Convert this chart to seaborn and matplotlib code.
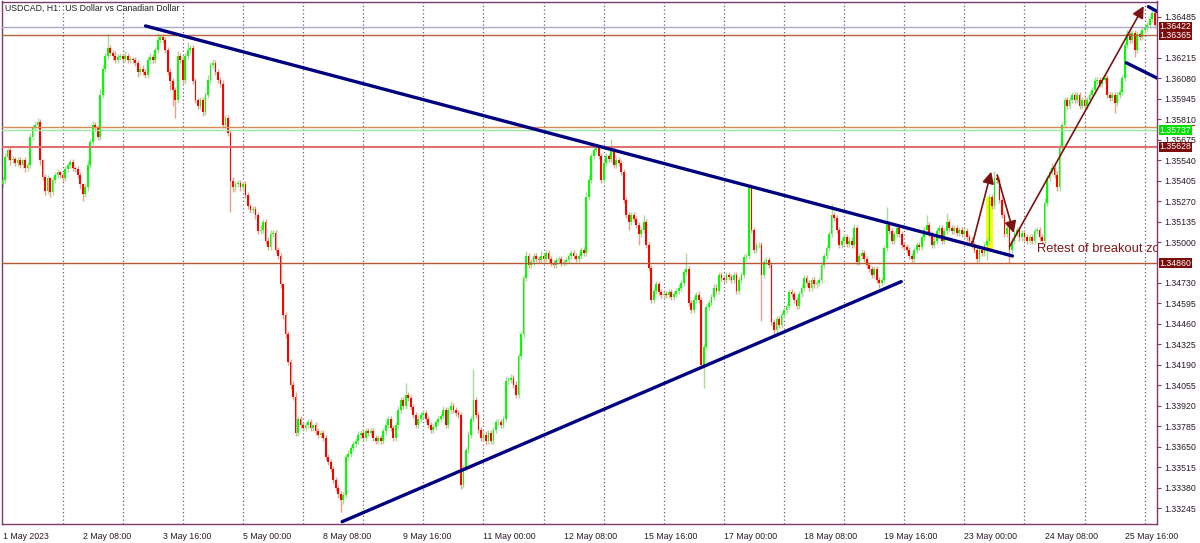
import numpy as np
import seaborn as sns
import matplotlib.pyplot as plt
from matplotlib.patches import Rectangle, FancyArrowPatch
import matplotlib.transforms as mtransforms

sns.set_style("white")
plt.rcParams['font.family'] = ['Liberation Sans', 'DejaVu Sans']

PIP = 0.0001
first_open = 1.3538

# hourly closes, one row per trading day
week1_close = [
    1.3541, 1.3556, 1.3561, 1.3554, 1.3555, 1.3552, 1.3554, 1.3551, 1.3554, 1.3549, 1.3551, 1.3569,
    1.3575, 1.3577, 1.3579, 1.3554, 1.3543, 1.3534, 1.3542, 1.3533, 1.3541, 1.3544, 1.3546, 1.3544,
    1.3542, 1.3548, 1.3551, 1.3553, 1.3549, 1.3548, 1.3544, 1.3538, 1.3532, 1.3536, 1.3551, 1.3566,
    1.3577, 1.3575, 1.3569, 1.3597, 1.3614, 1.3623, 1.3628, 1.3625, 1.3623, 1.3620, 1.3622, 1.3623,
    1.3621, 1.3623, 1.3620, 1.3621, 1.3620, 1.3618, 1.3612, 1.3614, 1.3612, 1.3610, 1.3620, 1.3622,
    1.3620, 1.3627, 1.3633, 1.3635, 1.3633, 1.3627, 1.3612, 1.3606, 1.3600, 1.3594, 1.3623, 1.3620,
    1.3607, 1.3623, 1.3627, 1.3628, 1.3606, 1.3594, 1.3590, 1.3594, 1.3586, 1.3597, 1.3607, 1.3617,
    1.3618, 1.3612, 1.3607, 1.3604, 1.3577, 1.3582, 1.3572, 1.3540, 1.3536, 1.3538, 1.3539, 1.3536,
    1.3538, 1.3531, 1.3524, 1.3521, 1.3522, 1.3518, 1.3507, 1.3508, 1.3513, 1.3501, 1.3497, 1.3505,
    1.3506, 1.3495, 1.3491, 1.3472, 1.3452, 1.3439, 1.3421, 1.3406, 1.3398, 1.3374, 1.3383, 1.3379,
]
week2_close = [
    1.3377, 1.3379, 1.3381, 1.3377, 1.3379, 1.3375, 1.3373, 1.3374, 1.3371, 1.3358, 1.3355, 1.3350,
    1.3343, 1.3338, 1.3334, 1.3330, 1.3333, 1.3358, 1.3360, 1.3364, 1.3367, 1.3369, 1.3373, 1.3374,
    1.3371, 1.3375, 1.3374, 1.3375, 1.3371, 1.3369, 1.3371, 1.3369, 1.3375, 1.3379, 1.3383, 1.3377,
    1.3371, 1.3379, 1.3389, 1.3396, 1.3392, 1.3399, 1.3397, 1.3391, 1.3386, 1.3379, 1.3383, 1.3386,
    1.3387, 1.3383, 1.3379, 1.3376, 1.3378, 1.3381, 1.3383, 1.3385, 1.3389, 1.3379, 1.3389, 1.3392,
    1.3389, 1.3387, 1.3386, 1.3340, 1.3351, 1.3363, 1.3373, 1.3383, 1.3396, 1.3386, 1.3376, 1.3371,
    1.3373, 1.3369, 1.3374, 1.3369, 1.3376, 1.3381, 1.3381, 1.3379, 1.3383, 1.3408, 1.3409, 1.3410,
    1.3406, 1.3399, 1.3425, 1.3439, 1.3476, 1.3491, 1.3485, 1.3487, 1.3491, 1.3489, 1.3488, 1.3491,
    1.3489, 1.3493, 1.3489, 1.3486, 1.3485, 1.3488, 1.3489, 1.3486, 1.3487, 1.3488, 1.3491, 1.3493,
    1.3491, 1.3489, 1.3491, 1.3495, 1.3493, 1.3530, 1.3541, 1.3557, 1.3561, 1.3562, 1.3557, 1.3541,
]
week3_close = [
    1.3552, 1.3557, 1.3555, 1.3561, 1.3551, 1.3554, 1.3552, 1.3546, 1.3528, 1.3518, 1.3513, 1.3518,
    1.3515, 1.3511, 1.3505, 1.3508, 1.3513, 1.3498, 1.3483, 1.3462, 1.3468, 1.3472, 1.3467, 1.3465,
    1.3466, 1.3465, 1.3467, 1.3464, 1.3466, 1.3468, 1.3470, 1.3473, 1.3480, 1.3482, 1.3460, 1.3455,
    1.3462, 1.3465, 1.3462, 1.3419, 1.3431, 1.3457, 1.3460, 1.3464, 1.3470, 1.3468, 1.3478, 1.3476,
    1.3475, 1.3478, 1.3477, 1.3475, 1.3478, 1.3468, 1.3475, 1.3478, 1.3490, 1.3491, 1.3536, 1.3508,
    1.3495, 1.3498, 1.3498, 1.3478, 1.3487, 1.3488, 1.3485, 1.3447, 1.3442, 1.3449, 1.3445, 1.3452,
    1.3455, 1.3458, 1.3467, 1.3466, 1.3462, 1.3458, 1.3466, 1.3470, 1.3476, 1.3473, 1.3470, 1.3475,
    1.3472, 1.3473, 1.3475, 1.3485, 1.3491, 1.3496, 1.3505, 1.3518, 1.3516, 1.3508, 1.3498, 1.3501,
    1.3503, 1.3499, 1.3501, 1.3498, 1.3509, 1.3487, 1.3491, 1.3493, 1.3489, 1.3485, 1.3482, 1.3478,
    1.3482, 1.3475, 1.3473, 1.3475, 1.3496, 1.3511, 1.3507, 1.3501, 1.3505, 1.3509, 1.3505, 1.3498,
]
week4_close = [
    1.3497, 1.3495, 1.3491, 1.3489, 1.3495, 1.3498, 1.3497, 1.3503, 1.3508, 1.3511, 1.3505, 1.3498,
    1.3501, 1.3507, 1.3509, 1.3501, 1.3507, 1.3513, 1.3509, 1.3507, 1.3509, 1.3506, 1.3508, 1.3505,
    1.3507, 1.3503, 1.3501, 1.3498, 1.3495, 1.3489, 1.3495, 1.3493, 1.3498, 1.3501, 1.3530, 1.3524,
    1.3542, 1.3541, 1.3528, 1.3518, 1.3505, 1.3509, 1.3495, 1.3501, 1.3506, 1.3508, 1.3503, 1.3506,
    1.3503, 1.3501, 1.3503, 1.3501, 1.3507, 1.3508, 1.3503, 1.3501, 1.3526, 1.3542, 1.3546, 1.3549,
    1.3544, 1.3536, 1.3563, 1.3577, 1.3594, 1.3590, 1.3594, 1.3597, 1.3594, 1.3597, 1.3590, 1.3594,
    1.3590, 1.3594, 1.3597, 1.3600, 1.3606, 1.3607, 1.3604, 1.3607, 1.3608, 1.3597, 1.3595, 1.3597,
    1.3592, 1.3597, 1.3599, 1.3608, 1.3630, 1.3637, 1.3633, 1.3638, 1.3627, 1.3637, 1.3635, 1.3640,
    1.3641, 1.3643, 1.3647, 1.3651, 1.3643,
]

# wick lengths beyond the body, in pips
week1_up = [
    2, 3, 1, 2, 2, 1, 2, 2, 1, 2, 2, 3, 2, 2, 3, 2, 1, 2, 2, 1, 2, 2, 2, 1,
    2, 2, 1, 2, 2, 1, 2, 2, 1, 2, 3, 2, 3, 2, 2, 4, 3, 2, 9, 2, 2, 3, 2, 2,
    2, 3, 2, 2, 1, 2, 2, 2, 3, 2, 2, 3, 2, 2, 5, 2, 2, 2, 2, 3, 2, 2, 3, 2,
    3, 2, 5, 2, 2, 2, 1, 2, 2, 2, 3, 2, 3, 2, 2, 2, 3, 2, 2, 2, 3, 2, 2, 2,
    2, 2, 2, 1, 2, 2, 2, 3, 2, 2, 2, 3, 2, 2, 2, 2, 1, 2, 2, 2, 2, 3, 2, 2,
]
week1_dn = [
    2, 2, 2, 3, 2, 2, 2, 2, 2, 3, 2, 2, 2, 2, 2, 3, 2, 3, 2, 3, 2, 2, 2, 2,
    2, 2, 2, 2, 2, 2, 2, 3, 5, 2, 2, 2, 2, 2, 2, 2, 2, 2, 2, 2, 3, 2, 2, 2,
    2, 2, 2, 2, 2, 2, 3, 2, 2, 2, 2, 2, 2, 2, 2, 2, 2, 2, 2, 6, 10, 12, 2, 2,
    3, 2, 2, 2, 2, 2, 2, 2, 3, 2, 2, 2, 2, 2, 2, 2, 2, 2, 2, 20, 3, 2, 2, 2,
    2, 2, 2, 2, 2, 3, 2, 2, 2, 2, 2, 2, 2, 2, 2, 2, 3, 2, 2, 3, 2, 2, 2, 2,
]
week2_up = [
    2, 2, 2, 2, 1, 2, 2, 2, 2, 2, 2, 2, 2, 2, 2, 2, 2, 2, 3, 2, 2, 2, 2, 2,
    2, 2, 2, 2, 2, 2, 2, 2, 2, 3, 2, 2, 2, 2, 3, 2, 2, 8, 2, 2, 2, 2, 2, 2,
    2, 2, 2, 2, 2, 2, 2, 2, 3, 2, 2, 3, 2, 2, 2, 2, 2, 2, 2, 2, 20, 2, 2, 2,
    2, 2, 2, 2, 2, 2, 2, 2, 2, 3, 2, 3, 2, 2, 2, 2, 2, 3, 2, 2, 2, 2, 2, 3,
    2, 2, 2, 2, 2, 2, 2, 2, 2, 2, 2, 2, 2, 2, 2, 2, 2, 3, 3, 2, 3, 3, 2, 2,
]
week2_dn = [
    2, 2, 2, 2, 2, 2, 2, 2, 2, 2, 2, 2, 2, 2, 3, 8, 3, 2, 2, 2, 2, 2, 2, 2,
    2, 2, 2, 2, 2, 2, 2, 2, 2, 2, 2, 2, 2, 2, 2, 2, 2, 2, 2, 2, 2, 2, 2, 2,
    2, 2, 2, 2, 2, 2, 2, 2, 2, 2, 2, 2, 2, 2, 2, 3, 2, 2, 2, 2, 2, 2, 2, 2,
    2, 3, 2, 2, 2, 2, 2, 2, 2, 2, 2, 2, 2, 2, 2, 2, 2, 2, 2, 2, 2, 2, 2, 2,
    2, 2, 2, 2, 2, 2, 2, 2, 2, 2, 2, 2, 2, 2, 2, 2, 2, 2, 2, 2, 2, 2, 2, 2,
]
week3_up = [
    2, 2, 2, 7, 2, 2, 2, 2, 2, 2, 2, 2, 2, 2, 2, 2, 5, 2, 2, 2, 2, 2, 2, 2,
    2, 2, 2, 2, 2, 2, 2, 2, 2, 11, 2, 2, 2, 2, 3, 2, 2, 2, 2, 2, 2, 2, 2, 2,
    2, 2, 2, 2, 2, 2, 2, 2, 2, 2, 2, 2, 2, 2, 2, 2, 2, 2, 2, 2, 2, 2, 2, 2,
    2, 2, 2, 2, 2, 2, 2, 2, 2, 2, 2, 2, 2, 2, 2, 2, 2, 2, 2, 7, 2, 2, 2, 2,
    2, 2, 2, 2, 3, 2, 2, 2, 2, 2, 2, 2, 2, 2, 2, 2, 2, 12, 2, 2, 2, 2, 2, 2,
]
week3_dn = [
    2, 2, 2, 2, 2, 2, 2, 2, 2, 2, 5, 2, 2, 2, 7, 2, 2, 2, 2, 2, 2, 2, 2, 2,
    2, 2, 2, 2, 2, 2, 2, 2, 2, 2, 2, 2, 2, 2, 2, 2, 15, 2, 2, 2, 2, 2, 2, 2,
    2, 2, 2, 2, 2, 2, 2, 2, 2, 2, 2, 2, 2, 2, 2, 30, 2, 2, 2, 2, 3, 2, 2, 2,
    2, 2, 2, 2, 2, 2, 2, 2, 2, 2, 2, 2, 2, 2, 2, 2, 2, 2, 2, 2, 2, 2, 2, 2,
    2, 2, 2, 2, 2, 2, 2, 2, 2, 2, 2, 2, 2, 2, 3, 2, 2, 2, 2, 2, 2, 2, 2, 2,
]
week4_up = [
    2, 2, 2, 2, 2, 2, 2, 2, 2, 7, 2, 2, 2, 2, 2, 2, 2, 6, 2, 2, 2, 2, 2, 2,
    2, 2, 2, 2, 2, 2, 2, 2, 2, 2, 2, 2, 5, 3, 2, 2, 2, 2, 2, 2, 2, 2, 2, 2,
    2, 2, 2, 2, 2, 2, 2, 2, 3, 2, 2, 3, 2, 3, 2, 2, 2, 2, 2, 2, 2, 2, 2, 2,
    2, 2, 2, 2, 3, 2, 2, 2, 3, 2, 2, 2, 2, 2, 2, 2, 2, 3, 2, 2, 2, 2, 2, 2,
    2, 2, 2, 3, 2,
]
week4_dn = [
    2, 2, 2, 2, 2, 2, 2, 2, 2, 2, 2, 2, 2, 2, 2, 2, 2, 2, 2, 2, 2, 2, 2, 2,
    2, 2, 2, 2, 2, 3, 2, 2, 2, 10, 2, 2, 2, 2, 2, 2, 2, 2, 9, 2, 2, 2, 2, 2,
    2, 2, 2, 2, 2, 2, 2, 2, 2, 2, 2, 2, 2, 2, 2, 2, 2, 2, 2, 2, 2, 2, 2, 2,
    2, 2, 2, 2, 2, 2, 2, 2, 2, 2, 2, 2, 7, 2, 2, 2, 2, 2, 2, 2, 5, 2, 2, 2,
    2, 2, 2, 2, 2,
]

xtick_pos = [0, 32, 64, 96, 128, 160, 192, 224, 256, 288, 320, 352, 384, 416, 448]
xtick_labels = ["1 May 2023", "2 May 08:00", "3 May 16:00", "5 May 00:00", "8 May 08:00",
                "9 May 16:00", "11 May 00:00", "12 May 08:00", "15 May 16:00", "17 May 00:00",
                "18 May 08:00", "19 May 16:00", "23 May 00:00", "24 May 08:00", "25 May 16:00"]
# price scale; 1.34865 and 1.36350 sit under the level boxes
ytick_labels = ["1.33245", "1.33380", "1.33515", "1.33650", "1.33785", "1.33920", "1.34055",
                "1.34190", "1.34325", "1.34460", "1.34595", "1.34730", "1.35000",
                "1.35135", "1.35270", "1.35405", "1.35540", "1.35675", "1.35810", "1.35945",
                "1.36080", "1.36215", "1.36485"]

# drawn objects (bar index, price)
trendlines = [
    ([57.1, 403.2], [1.36426, 1.34908]),
    ([135.6, 358.8], [1.33155, 1.34739]),
    ([448.6, 462.0], [1.36183, 1.36073]),
    ([457.5, 462.0], [1.36553, 1.36512]),
]
arrows = [
    ((387.1, 1.34980), (394.7, 1.35464)),
    ((397.1, 1.35442), (403.7, 1.35060)),
    ((402.0, 1.34969), (455.6, 1.36557)),
]
levels = [
    (1.36422, '#a9a9c9', 1.0),
    (1.36365, '#b4643a', 1.0),
    (1.35760, '#d98c55', 1.0),
    (1.35737, '#9ee89e', 1.0),
    (1.35628, '#e07070', 1.5),
    (1.34860, '#b45a32', 1.0),
]
price_boxes = [
    (1.36422, '#7b0c0c'),
    (1.36365, '#7b0c0c'),
    (1.35737, '#00e000'),
    (1.35628, '#7b0c0c'),
    (1.34860, '#7b0c0c'),
]
bid_marker = 1.35768

close = np.array(week1_close + week2_close + week3_close + week4_close)
up = np.array(week1_up + week2_up + week3_up + week4_up) * PIP
dn = np.array(week1_dn + week2_dn + week3_dn + week4_dn) * PIP
open_ = np.concatenate([[first_open], close[:-1]])
bar = np.arange(len(close))
top = np.maximum(open_, close)
bot = np.minimum(open_, close)
high = top + up
low = bot - dn
bull = close >= open_

frame = '#7b3b6b'
fig = plt.figure(figsize=(12, 5.43), dpi=100)
ax = fig.add_axes([2 / 1200, 19 / 543, 1155 / 1200, 522.5 / 543])

# day separators
ax.vlines(range(24, 460, 24), 0, 1, transform=ax.get_xaxis_transform(),
          colors='#6a5a7a', linestyles=(0, (1, 2)), linewidth=0.9, zorder=0.5)

ax.add_patch(Rectangle((392.8, 1.34948), 2.8, 1.35297 - 1.34948,
                       facecolor='#ffff00', edgecolor='none', zorder=1.8))

ax.vlines(bar[bull], low[bull], high[bull], colors='#a6dc96', linewidth=1.0, zorder=2)
ax.vlines(bar[~bull], low[~bull], high[~bull], colors='#eaa088', linewidth=1.0, zorder=2)
height = np.maximum(top - bot, 0.000025)
ax.bar(bar[bull], height[bull], bottom=bot[bull], width=0.7, color='#00ff00', linewidth=0, zorder=3)
ax.bar(bar[~bull], height[~bull], bottom=bot[~bull], width=0.7, color='#ff0000', linewidth=0, zorder=3)

for price, col, lw in levels:
    ax.axhline(price, color=col, linewidth=lw, zorder=3.5)

for xs, ys in trendlines:
    sns.lineplot(x=xs, y=ys, ax=ax, color='#000080', linewidth=2.4, sort=False, zorder=4)

for (x0, y0), (x1, y1) in arrows:
    ax.add_patch(FancyArrowPatch((x0, y0), (x1, y1), arrowstyle='-|>,head_length=0.7,head_width=0.35',
                                 mutation_scale=10, color='#7a1212', linewidth=1.2,
                                 shrinkA=0, shrinkB=0, zorder=5))

ax.text(412.8, 1.34954, "Retest of breakout zone", fontsize=9.3, color='#801818',
        ha='left', va='center', clip_on=True, zorder=5)
ax.text(0.003, 0.9876, "USDCAD, H1:  US Dollar vs Canadian Dollar", transform=ax.transAxes,
        fontsize=6.3, color='#202020', ha='left', va='center')

ax.set_xlim(-0.2, 460.9)
ax.set_ylim(1.331396, 1.365871)

ax.yaxis.tick_right()
ax.set_yticks([float(t) for t in ytick_labels])
ax.set_yticklabels(ytick_labels)
ax.set_xticks(xtick_pos)
ax.set_xticklabels(xtick_labels)
for lab in ax.get_xticklabels():
    lab.set_horizontalalignment('left')
ax.tick_params(axis='y', length=3, width=0.8, direction='out', colors=frame,
               labelcolor='#2a1a2a', labelsize=6.3, pad=2)
ax.tick_params(axis='x', length=3, width=0.8, direction='out', colors=frame,
               labelcolor='#2a1a2a', labelsize=6.3, pad=3)
ax.set_xlabel('')
ax.set_ylabel('')
ax.grid(False)
for s in ax.spines.values():
    s.set_visible(True)
    s.set_color(frame)
    s.set_linewidth(1.0)

blend = mtransforms.blended_transform_factory(ax.transAxes, ax.transData)
# small red bid marker partly covered by the green box
ax.add_patch(Rectangle((1.0015, bid_marker - 0.00004), 0.031, 0.00008, transform=blend,
                       facecolor='#ff0000', edgecolor='none', clip_on=False, zorder=9))
for price, col in price_boxes:
    ax.text(1.0022, price, f"{price:.5f}", transform=blend, fontsize=6.3, color='white',
            ha='left', va='center', clip_on=False, zorder=10,
            bbox=dict(boxstyle='square,pad=0.05', facecolor=col, edgecolor='none'))

fig.savefig('out.png', dpi=100, facecolor='white')
